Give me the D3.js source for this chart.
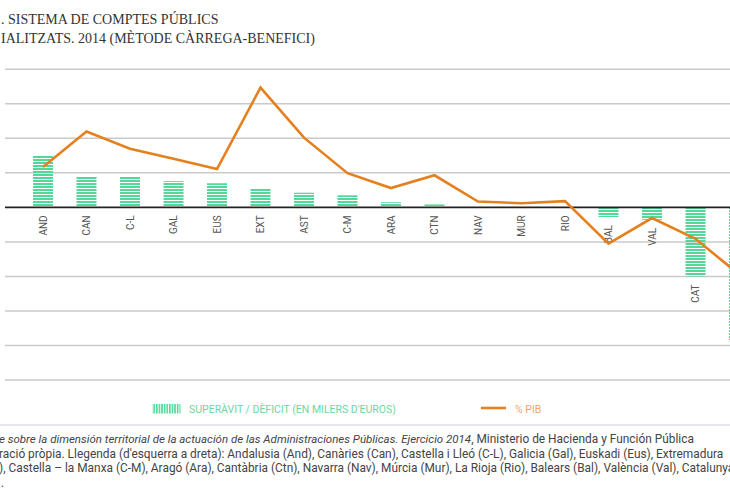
<!DOCTYPE html>
<html lang="ca">
<head>
<meta charset="UTF-8">
<title>Sistema de comptes públics territorialitzats 2014</title>
<script src="https://d3js.org/d3.v7.min.js"></script>
<style>
    body { margin: 0; background: #fff; }
    svg { display: block; }
</style>
</head>
<body>
<svg width="730" height="500"></svg>
<script>
    // regions (left to right), MAD is cut off at the right edge
    const regions = ["AND", "CAN", "C-L", "GAL", "EUS", "EXT", "AST", "C-M", "ARA", "CTN",
                     "NAV", "MUR", "RIO", "BAL", "VAL", "CAT", "MAD"]
    // superàvit / dèficit, milers d'euros
    const balance = [3000000, 1800000, 1800000, 1520000, 1400000, 1120000, 850000, 700000, 300000, 170000,
                     0, 0, 0, -560000, -720000, -4000000, -7700000]
    // % PIB
    const pctPib = [2.34, 4.4, 3.4, 2.82, 2.22, 6.94, 4.04, 1.98, 1.12, 1.86,
                    0.34, 0.24, 0.36, -2.1, -0.62, -1.82, -3.88]

    const titleLines = [". SISTEMA DE COMPTES PÚBLICS", "IALITZATS. 2014 (MÈTODE CÀRREGA-BENEFICI)"]
    const legendBars = "SUPERÀVIT / DÈFICIT (EN MILERS D'EUROS)"
    const legendLine = "% PIB"

    let svg = d3.select("svg")
    let width = +svg.attr("width")
    const green = "#55d79a"
    const orange = "#e5801f"

    // stripe patterns for the bars (horizontal) and the legend swatch (vertical)
    let defs = svg.append("defs")
    let ph = defs.append("pattern").attr("id", "hstripes")
        .attr("patternUnits", "userSpaceOnUse").attr("width", 4).attr("height", 3)
    ph.append("rect").attr("width", 4).attr("height", 2).attr("fill", green)
    let pv = defs.append("pattern").attr("id", "vstripes")
        .attr("patternUnits", "userSpaceOnUse").attr("width", 2.6).attr("height", 4)
    pv.append("rect").attr("width", 1.6).attr("height", 4).attr("fill", green)

    // scales
    let x = d3.scalePoint().domain(regions).range([43, 43 + 16 * 43.5])
    let yBar = d3.scaleLinear().domain([-10000000, 8000000]).range([380, 69.3])
    let yPct = d3.scaleLinear().domain([-10, 8]).range([380, 69.3])

    // title
    svg.append("g").selectAll("text")
        .data(titleLines)
        .enter().append("text")
        .attr("x", 1)
        .attr("y", (d, i) => 24 + i * 19)
        .attr("font-family", "Liberation Serif, serif")
        .attr("font-size", 14)
        .attr("fill", "#333")
        .text(d => d)

    // grid
    svg.append("g").selectAll("line")
        .data(yBar.ticks(9).filter(t => t !== 0))
        .enter().append("line")
        .attr("x1", 5).attr("x2", width)
        .attr("y1", d => yBar(d)).attr("y2", d => yBar(d))
        .attr("stroke", "#cacaca").attr("stroke-width", 1.5)

    // bars
    svg.append("g").selectAll("rect")
        .data(regions)
        .enter().append("rect")
        .attr("x", d => x(d) - 10)
        .attr("width", 20)
        .attr("y", (d, i) => Math.min(yBar(balance[i]), yBar(0)))
        .attr("height", (d, i) => Math.abs(yBar(balance[i]) - yBar(0)))
        .attr("fill", "url(#hstripes)")

    // zero line
    svg.append("line")
        .attr("x1", 5).attr("x2", width)
        .attr("y1", yBar(0)).attr("y2", yBar(0))
        .attr("stroke", "#222").attr("stroke-width", 1.6)

    // region labels, under the bar when it goes down (the last one falls outside the frame)
    svg.append("g").selectAll("text")
        .data(regions.filter(d => x(d) + 10 < width))
        .enter().append("text")
        .attr("transform", d => {
            let i = regions.indexOf(d)
            let top = Math.max(yBar(0), yBar(balance[i])) + 8
            return `translate(${x(d) + 3.5},${top}) rotate(-90)`
        })
        .attr("text-anchor", "end")
        .attr("font-family", "Roboto, sans-serif")
        .attr("font-size", 10)
        .attr("fill", "#555")
        .text(d => d)

    // % PIB line
    let line = d3.line()
        .x((d, i) => x(regions[i]))
        .y(d => yPct(d))
    svg.append("path")
        .datum(pctPib)
        .attr("d", line)
        .attr("fill", "none")
        .attr("stroke", orange)
        .attr("stroke-width", 2.6)

    // legend
    let legend = svg.append("g").attr("font-family", "Roboto, sans-serif").attr("font-size", 10.5)
    legend.append("rect")
        .attr("x", 152.5).attr("y", 404).attr("width", 28).attr("height", 9.5)
        .attr("fill", "url(#vstripes)")
    legend.append("text")
        .attr("x", 189).attr("y", 412.5)
        .attr("fill", "#6dd6a3")
        .text(legendBars)
    legend.append("line")
        .attr("x1", 481).attr("x2", 506).attr("y1", 408).attr("y2", 408)
        .attr("stroke", orange).attr("stroke-width", 2.6)
    legend.append("text")
        .attr("x", 515).attr("y", 412.5)
        .attr("fill", "#f0a866")
        .text(legendLine)

    // separator
    svg.append("line")
        .attr("x1", 0).attr("x2", width).attr("y1", 425).attr("y2", 425)
        .attr("stroke", "#d3cbe0").attr("stroke-width", 1.2)

    // source note
    let note = svg.append("g")
        .attr("font-family", "Roboto, sans-serif")
        .attr("font-size", 11.9)
        .attr("fill", "#444")
    let l1 = note.append("text").attr("x", -1).attr("y", 443)
    l1.append("tspan").attr("font-style", "italic").attr("font-size", 11.5)
        .text("e sobre la dimensión territorial de la actuación de las Administraciones Públicas. Ejercicio 2014")
    l1.append("tspan").text(", Ministerio de Hacienda y Función Pública")
    note.append("text").attr("x", -1).attr("y", 457.5)
        .text("ració pròpia. Llegenda (d'esquerra a dreta): Andalusia (And), Canàries (Can), Castella i Lleó (C-L), Galicia (Gal), Euskadi (Eus), Extremadura")
    note.append("text").attr("x", -1).attr("y", 472)
        .text("), Castella – la Manxa (C-M), Aragó (Ara), Cantàbria (Ctn), Navarra (Nav), Múrcia (Mur), La Rioja (Rio), Balears (Bal), València (Val), Catalunya")
    note.append("text").attr("x", 1).attr("y", 486.5).text(".")
</script>
</body>
</html>
